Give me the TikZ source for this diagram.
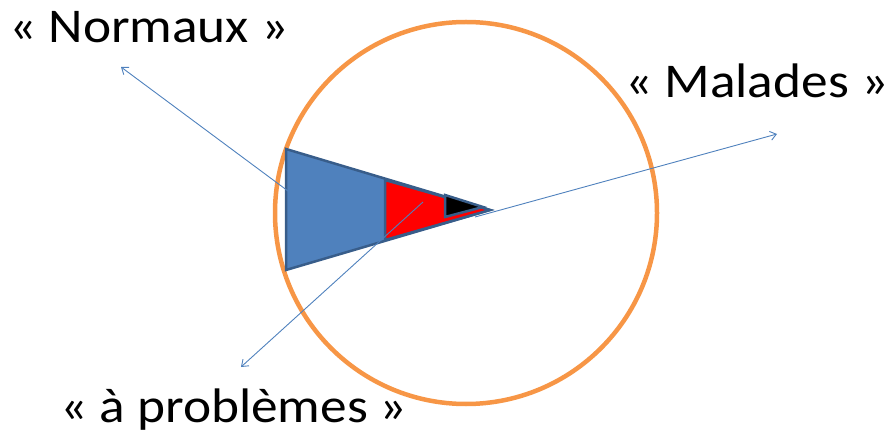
\documentclass[tikz,border=0pt]{standalone}
\usepackage{fontspec}
\setmainfont{Carlito}
\newfontfamily\etiq[FakeStretch=1.1]{Carlito}
\usetikzlibrary{arrows.meta}
\definecolor{bleu}{HTML}{4F81BD}
\definecolor{bleufonce}{HTML}{385D8A}
\definecolor{cercle}{HTML}{F79646}

\begin{document}
\begin{tikzpicture}[x=1pt, y=-1pt,
    fleche/.style={-{Straight Barb[length=6pt, width=9pt]}, bleu, line width=0.9pt},
    secteur/.style={draw=bleufonce, line width=2.5pt},
    etiquette/.style={anchor=base west, inner sep=0pt, font=\etiq\fontsize{48.5}{58}\selectfont}]
    \useasboundingbox (0,0) rectangle (888,430);

    % cercle de la population
    \draw[cercle, line width=4.5pt] (466,213) circle (191pt);

    % secteurs emboîtés
    \fill[bleu, secteur] (286,149) -- (490,210) -- (286,270) -- cycle;
    \fill[red, secteur] (385,180) -- (490,210) -- (385,240) -- cycle;
    \fill[black, secteur] (445,195) -- (483,207) -- (445,217) -- cycle;

    % étiquettes
    \node[etiquette] (normaux) at (9,43) {« Normaux »};
    \node[etiquette] (malades) at (625,98) {« Malades »};
    \node[etiquette] (problemes) at (60,422) {« à problèmes »};

    % flèches vers les étiquettes
    \coordinate (n0) at (323,217);
    \coordinate (n1) at (121,67);
    \coordinate (p0) at (423,202);
    \coordinate (p1) at (241,367);
    \coordinate (m0) at (475,217);
    \coordinate (m1) at (777,134);
    \draw[fleche] (n0) -- (n1);
    \draw[fleche] (p0) -- (p1);
    \draw[fleche] (m0) -- (m1);

\end{tikzpicture}
\end{document}
